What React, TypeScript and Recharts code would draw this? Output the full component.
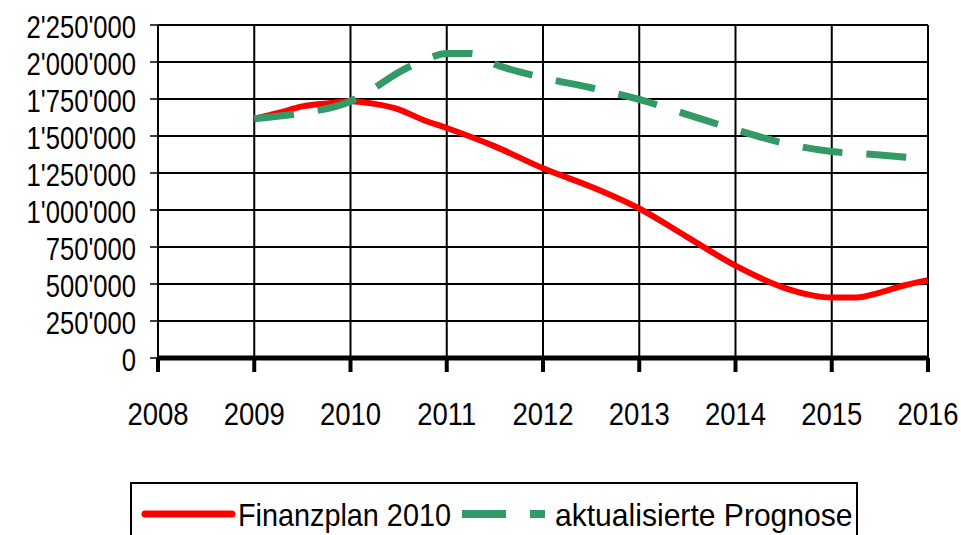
import { LineChart, Line, XAxis, YAxis, CartesianGrid } from "recharts";

const years = [2008, 2009, 2010, 2011, 2012, 2013, 2014, 2015, 2016];
const yTicks = [0, 250000, 500000, 750000, 1000000, 1250000, 1500000, 1750000, 2000000, 2250000];

// Finanzplan 2010 (red)
const planX = [2009, 2009.25, 2009.5, 2009.75, 2010, 2010.25, 2010.5, 2010.75, 2011, 2011.5, 2012, 2012.5, 2013, 2013.5, 2014, 2014.5, 2014.75, 2015, 2015.25, 2015.5, 2015.75, 2016];
const planY = [1617000, 1656000, 1700000, 1720000, 1735000, 1717000, 1680000, 1610000, 1554000, 1430000, 1282000, 1157000, 1010000, 817000, 624000, 476000, 430000, 408000, 408000, 442000, 490000, 526000];

// aktualisierte Prognose (green, dashed)
const progX = [2009, 2009.5, 2010, 2010.25, 2010.5, 2010.75, 2011, 2011.25, 2011.5, 2012, 2012.5, 2013, 2013.5, 2014, 2014.5, 2015, 2015.5, 2016];
const progY = [1617000, 1656000, 1735000, 1826000, 1930000, 2008000, 2057000, 2057000, 1985000, 1894000, 1826000, 1747000, 1645000, 1543000, 1452000, 1395000, 1372000, 1343000];

const planData = planX.map((x, i) => ({ x, v: planY[i] }));
const progData = progX.map((x, i) => ({ x, v: progY[i] }));

const FONT = '"Liberation Sans", Arial, sans-serif';
const RED = "#FF0000";
const GREEN = "#339966";

function fmt(v: number): string {
  return String(v).replace(/\B(?=(\d{3})+(?!\d))/g, "'");
}

// the reference uses a narrow face, so squeeze the glyphs horizontally
function XTick(props: any) {
  const { x, payload } = props;
  return (
    <g transform={`translate(${x},425) scale(0.86,1)`}>
      <text x={0} y={0} textAnchor="middle" fontFamily={FONT} fontSize={32} fill="#000">
        {payload.value}
      </text>
    </g>
  );
}

function YTick(props: any) {
  const { y, payload } = props;
  return (
    <g transform={`translate(136,${y + 13}) scale(0.8,1)`}>
      <text x={0} y={0} textAnchor="end" fontFamily={FONT} fontSize={32} fill="#000">
        {fmt(payload.value)}
      </text>
    </g>
  );
}

export default function App() {
  return (
    <div style={{ position: "fixed", left: 0, top: 0, width: 961, height: 535, background: "#fff", overflow: "hidden" }}>
      <LineChart width={961} height={535} margin={{ top: 25, right: 33, left: 8, bottom: 107 }}>
        <CartesianGrid stroke="#000" strokeWidth={2} />
        <XAxis
          type="number"
          dataKey="x"
          domain={[2008, 2016]}
          ticks={years}
          allowDataOverflow
          height={70}
          axisLine={{ stroke: "#000", strokeWidth: 5 }}
          tickLine={{ stroke: "#000", strokeWidth: 4 }}
          tickSize={14}
          tick={<XTick />}
          interval={0}
        />
        <YAxis
          type="number"
          domain={[0, 2250000]}
          ticks={yTicks}
          width={150}
          axisLine={{ stroke: "#000", strokeWidth: 1.5 }}
          tickLine={{ stroke: "#000", strokeWidth: 1.5 }}
          tickSize={8}
          tick={<YTick />}
          interval={0}
        />
        <Line
          data={planData}
          dataKey="v"
          type="monotone"
          stroke={RED}
          strokeWidth={6}
          dot={false}
          isAnimationActive={false}
        />
        <Line
          data={progData}
          dataKey="v"
          type="monotone"
          stroke={GREEN}
          strokeWidth={7}
          strokeDasharray="40 24"
          dot={false}
          isAnimationActive={false}
        />
      </LineChart>
      <div
        style={{
          position: "absolute",
          left: 130,
          top: 482,
          width: 728,
          height: 70,
          border: "2px solid #000",
          boxSizing: "border-box",
        }}
      >
        <svg width={724} height={51} style={{ position: "absolute", left: 0, top: 0 }}>
          <line x1={13} y1={30} x2={100} y2={30} stroke={RED} strokeWidth={7} strokeLinecap="round" />
          <line x1={330} y1={30} x2={413} y2={30} stroke={GREEN} strokeWidth={8} strokeDasharray="44 24" />
          <g transform="translate(106,42) scale(0.9,1)">
            <text x={0} y={0} fontFamily={FONT} fontSize={32} fill="#000">
              Finanzplan 2010
            </text>
          </g>
          <g transform="translate(423,42) scale(0.94,1)">
            <text x={0} y={0} fontFamily={FONT} fontSize={32} fill="#000">
              aktualisierte Prognose
            </text>
          </g>
        </svg>
      </div>
    </div>
  );
}
